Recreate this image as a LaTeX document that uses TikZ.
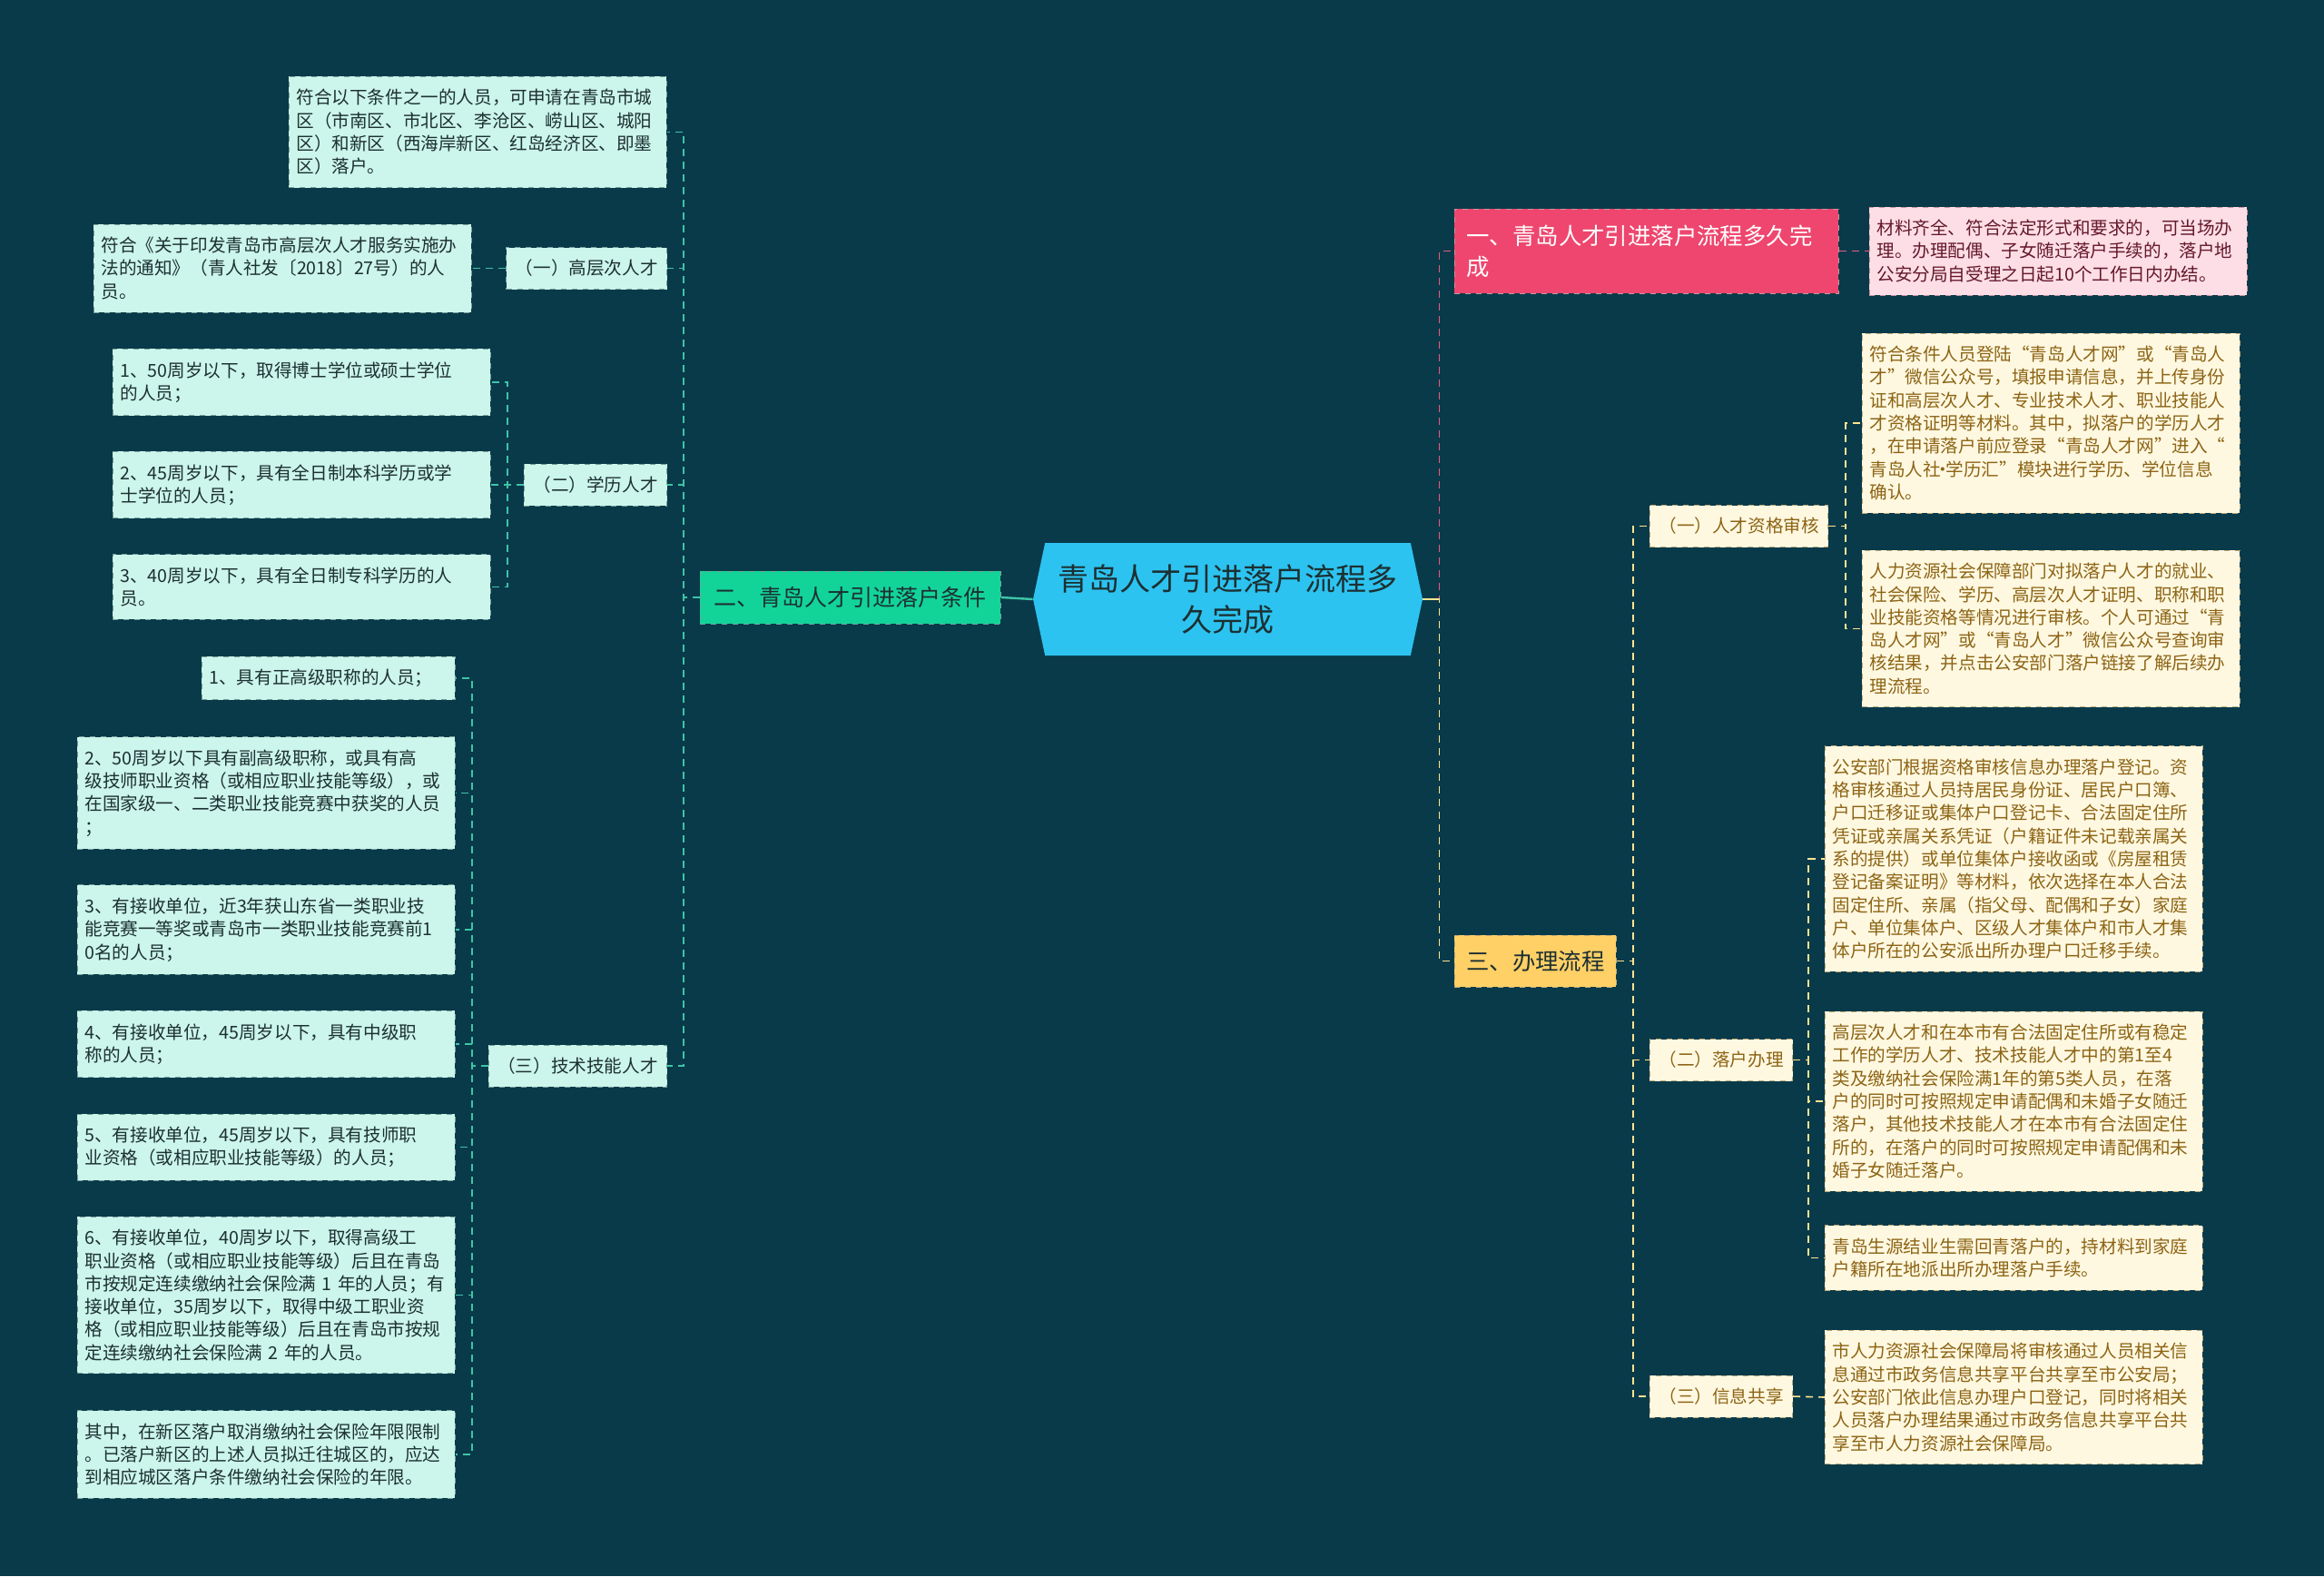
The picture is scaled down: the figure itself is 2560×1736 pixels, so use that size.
\documentclass[tikz,border=0pt]{standalone}
\usepackage{fontspec}
\setmainfont{Noto Sans CJK SC}
\usetikzlibrary{shapes.symbols}
\definecolor{BgClr}{RGB}{9,58,74}
\definecolor{TealFill}{RGB}{204,245,235}
\definecolor{TealEdge}{RGB}{120,160,155}
\definecolor{TealText}{RGB}{28,48,50}
\definecolor{TealLink}{RGB}{62,196,166}
\definecolor{CondClr}{RGB}{18,212,152}
\definecolor{RootClr}{RGB}{45,195,240}
\definecolor{TimeClr}{RGB}{238,70,110}
\definecolor{PinkFill}{RGB}{253,222,230}
\definecolor{PinkEdge}{RGB}{200,150,160}
\definecolor{PinkText}{RGB}{100,24,44}
\definecolor{PinkLink}{RGB}{232,90,132}
\definecolor{ProcClr}{RGB}{255,208,102}
\definecolor{CreamFill}{RGB}{255,248,225}
\definecolor{CreamEdge}{RGB}{190,170,120}
\definecolor{CreamText}{RGB}{140,100,20}
\definecolor{GoldLink}{RGB}{255,228,145}

\begin{document}
\begin{tikzpicture}[x=0.5pt,y=-0.5pt,
  every node/.style={font=\fontsize{9.8pt}{12.65pt}\selectfont},
  tealbox/.style={draw=TealEdge,dashed,fill=TealFill,text=TealText,align=left,
    text width=200pt,inner xsep=4pt,inner ysep=7pt,anchor=west},
  tealsub/.style={draw=TealEdge,dashed,fill=TealFill,text=TealText,
    inner xsep=5pt,minimum height=23pt,anchor=east},
  pinkbox/.style={draw=PinkEdge,dashed,fill=PinkFill,text=PinkText,align=left,
    text width=200pt,inner xsep=4pt,inner ysep=7pt,anchor=west},
  creambox/.style={draw=CreamEdge,dashed,fill=CreamFill,text=CreamText,align=left,
    text width=200pt,inner xsep=4pt,inner ysep=7pt,anchor=west},
  creamsub/.style={draw=CreamEdge,dashed,fill=CreamFill,text=CreamText,
    inner xsep=5pt,minimum height=23pt,anchor=west},
  tealline/.style={draw=TealLink,line width=0.8pt,dash pattern=on 4pt off 3pt},
  pinkline/.style={draw=PinkLink,line width=0.9pt,dash pattern=on 4pt off 3pt},
  goldline/.style={draw=GoldLink,line width=0.8pt,dash pattern=on 4pt off 3pt}]

\fill[BgClr] (0,0) rectangle (2560,1736);
\useasboundingbox (0,0) rectangle (2560,1736);

\node[signal,signal to=west and east,signal pointer angle=156,fill=RootClr,text=TealText,
  minimum width=214.5pt,minimum height=62pt,align=center,
  font=\fontsize{17pt}{22.5pt}\selectfont] (root) at (1352.5,660)
  {青岛人才引进落户流程多\\久完成};

% left branch
\node[draw=TealEdge,dashed,fill=CondClr,text=TealText,anchor=west,minimum width=165.5pt,
  minimum height=29pt,font=\fontsize{12.5pt}{15pt}\selectfont] (cond) at (771,658)
  {二、青岛人才引进落户条件};

\node[tealbox] (ltop) at (318,145.5) {符合以下条件之一的人员，可申请在青岛市城\\区（市南区、市北区、李沧区、崂山区、城阳\\区）和新区（西海岸新区、红岛经济区、即墨\\区）落户。};
\node[tealsub] (high) at (735,295.5) {（一）高层次人才};
\node[tealbox] (high1) at (103,295.5) {符合《关于印发青岛市高层次人才服务实施办\\法的通知》（青人社发〔2018〕27号）的人\\员。};
\node[tealsub] (edu) at (735,534) {（二）学历人才};
\node[tealbox] (edu1) at (124,421) {1、50周岁以下，取得博士学位或硕士学位\\的人员；};
\node[tealbox] (edu2) at (124,534) {2、45周岁以下，具有全日制本科学历或学\\士学位的人员；};
\node[tealbox] (edu3) at (124,646.5) {3、40周岁以下，具有全日制专科学历的人\\员。};
\node[tealsub] (tech) at (735,1174) {（三）技术技能人才};
\node[tealbox,text width=131.5pt] (tech1) at (222,747) {1、具有正高级职称的人员；};
\node[tealbox] (tech2) at (85,873.5) {2、50周岁以下具有副高级职称，或具有高\\级技师职业资格（或相应职业技能等级），或\\在国家级一、二类职业技能竞赛中获奖的人员\\；};
\node[tealbox] (tech3) at (85,1024) {3、有接收单位，近3年获山东省一类职业技\\能竞赛一等奖或青岛市一类职业技能竞赛前1\\0名的人员；};
\node[tealbox] (tech4) at (85,1150) {4、有接收单位，45周岁以下，具有中级职\\称的人员；};
\node[tealbox] (tech5) at (85,1263.5) {5、有接收单位，45周岁以下，具有技师职\\业资格（或相应职业技能等级）的人员；};
\node[tealbox] (tech6) at (85,1426.5) {6、有接收单位，40周岁以下，取得高级工\\职业资格（或相应职业技能等级）后且在青岛\\市按规定连续缴纳社会保险满 1 年的人员；有\\接收单位，35周岁以下，取得中级工职业资\\格（或相应职业技能等级）后且在青岛市按规\\定连续缴纳社会保险满 2 年的人员。};
\node[tealbox] (tech7) at (85,1602) {其中，在新区落户取消缴纳社会保险年限限制\\。已落户新区的上述人员拟迁往城区的，应达\\到相应城区落户条件缴纳社会保险的年限。};

% right branch
\node[draw=PinkEdge,dashed,fill=TimeClr,text=white,anchor=west,align=left,text width=198.5pt,
  inner xsep=6.5pt,minimum height=46.5pt,font=\fontsize{12.7pt}{17pt}\selectfont] (time) at (1602,276.5)
  {一、青岛人才引进落户流程多久完\\成};
\node[pinkbox] (time1) at (2059,276.5) {材料齐全、符合法定形式和要求的，可当场办\\理。办理配偶、子女随迁落户手续的，落户地\\公安分局自受理之日起10个工作日内办结。};

\node[draw=CreamEdge,dashed,fill=ProcClr,text=TealText,anchor=west,minimum width=89pt,
  minimum height=28.5pt,font=\fontsize{12.7pt}{15pt}\selectfont] (proc) at (1602,1058.5)
  {三、办理流程};
\node[creamsub] (review) at (1817,579.5) {（一）人才资格审核};
\node[creambox] (review1) at (2051,466) {符合条件人员登陆“青岛人才网”或“青岛人\\才”微信公众号，填报申请信息，并上传身份\\证和高层次人才、专业技术人才、职业技能人\\才资格证明等材料。其中，拟落户的学历人才\\，在申请落户前应登录“青岛人才网”进入“\\青岛人社\kern-0.35em·\kern-0.35em学历汇”模块进行学历、学位信息\\确认。};
\node[creambox] (review2) at (2051,692.5) {人力资源社会保障部门对拟落户人才的就业、\\社会保险、学历、高层次人才证明、职称和职\\业技能资格等情况进行审核。个人可通过“青\\岛人才网”或“青岛人才”微信公众号查询审\\核结果，并点击公安部门落户链接了解后续办\\理流程。};
\node[creamsub] (settle) at (1817,1167.5) {（二）落户办理};
\node[creambox] (settle1) at (2010,946) {公安部门根据资格审核信息办理落户登记。资\\格审核通过人员持居民身份证、居民户口簿、\\户口迁移证或集体户口登记卡、合法固定住所\\凭证或亲属关系凭证（户籍证件未记载亲属关\\系的提供）或单位集体户接收函或《房屋租赁\\登记备案证明》等材料，依次选择在本人合法\\固定住所、亲属（指父母、配偶和子女）家庭\\户、单位集体户、区级人才集体户和市人才集\\体户所在的公安派出所办理户口迁移手续。};
\node[creambox] (settle2) at (2010,1213) {高层次人才和在本市有合法固定住所或有稳定\\工作的学历人才、技术技能人才中的第1至4\\类及缴纳社会保险满1年的第5类人员，在落\\户的同时可按照规定申请配偶和未婚子女随迁\\落户，其他技术技能人才在本市有合法固定住\\所的，在落户的同时可按照规定申请配偶和未\\婚子女随迁落户。};
\node[creambox] (settle3) at (2010,1385.5) {青岛生源结业生需回青落户的，持材料到家庭\\户籍所在地派出所办理落户手续。};
\node[creamsub] (share) at (1817,1538) {（三）信息共享};
\node[creambox] (share1) at (2010,1539) {市人力资源社会保障局将审核通过人员相关信\\息通过市政务信息共享平台共享至市公安局；\\公安部门依此信息办理户口登记，同时将相关\\人员落户办理结果通过市政务信息共享平台共\\享至市人力资源社会保障局。};

% connectors
\draw[draw=TealLink,line width=1.2pt] (root.west) -- (cond.east);
\draw[tealline] (cond.west) -- ++(-18,0) |- (ltop.east);
\draw[tealline] (cond.west) -- ++(-18,0) |- (high.east);
\draw[tealline] (cond.west) -- ++(-18,0) |- (edu.east);
\draw[tealline] (cond.west) -- ++(-18,0) |- (tech.east);
\draw[tealline] (high.west) -- (high1.east);
\draw[tealline] (edu.west) -- ++(-18,0) |- (edu1.east);
\draw[tealline] (edu.west) -- ++(-18,0) |- (edu2.east);
\draw[tealline] (edu.west) -- ++(-18,0) |- (edu3.east);
\draw[tealline] (tech.west) -- ++(-18,0) |- (tech1.east);
\draw[tealline] (tech.west) -- ++(-18,0) |- (tech2.east);
\draw[tealline] (tech.west) -- ++(-18,0) |- (tech3.east);
\draw[tealline] (tech.west) -- ++(-18,0) |- (tech4.east);
\draw[tealline] (tech.west) -- ++(-18,0) |- (tech5.east);
\draw[tealline] (tech.west) -- ++(-18,0) |- (tech6.east);
\draw[tealline] (tech.west) -- ++(-18,0) |- (tech7.east);

\draw[pinkline] (root.east) -- ++(18,0) |- (time.west);
\draw[pinkline] (time.east) -- (time1.west);
\draw[goldline] (root.east) -- ++(18,0) |- (proc.west);
\draw[goldline] (proc.east) -- ++(18,0) |- (review.west);
\draw[goldline] (proc.east) -- ++(18,0) |- (settle.west);
\draw[goldline] (proc.east) -- ++(18,0) |- (share.west);
\draw[goldline] (review.east) -- ++(19,0) |- (review1.west);
\draw[goldline] (review.east) -- ++(19,0) |- (review2.west);
\draw[goldline] (settle.east) -- ++(17,0) |- (settle1.west);
\draw[goldline] (settle.east) -- ++(17,0) |- (settle2.west);
\draw[goldline] (settle.east) -- ++(17,0) |- (settle3.west);
\draw[goldline] (share.east) -- (share1.west);
\draw[draw=GoldLink,line width=1.2pt] (root.east) -- ++(18,0);

\end{tikzpicture}
\end{document}
